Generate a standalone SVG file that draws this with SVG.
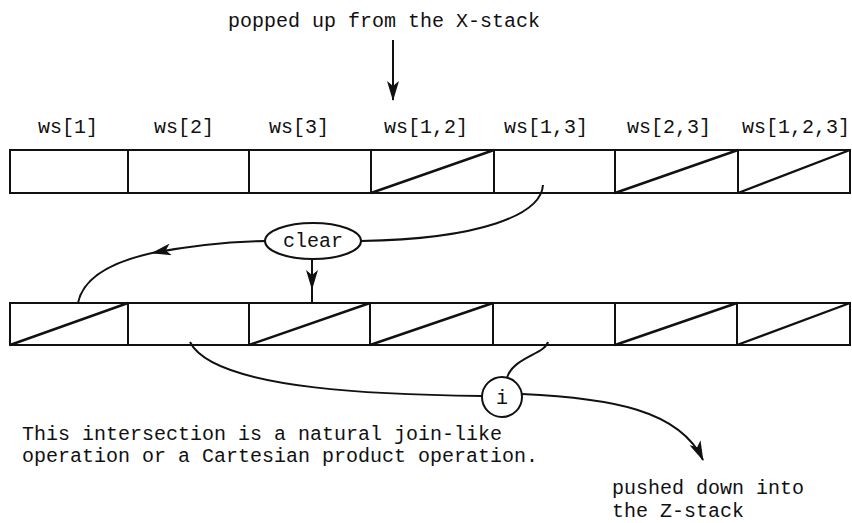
<svg xmlns="http://www.w3.org/2000/svg" width="852" height="523" viewBox="0 0 852 523">
<style>
text{font-family:"Liberation Mono","Courier New",monospace;font-size:20px;fill:#111}
.c{text-anchor:middle}
.box{fill:none;stroke:#111;stroke-width:2}
.dg{stroke:#111;stroke-width:2.4;fill:none}
.ln{fill:none;stroke:#111;stroke-width:2}
</style>
<defs>
<marker id="ah" viewBox="0 0 20 12" refX="19" refY="6" markerWidth="20" markerHeight="12" markerUnits="userSpaceOnUse" orient="auto">
<path d="M0,0 L20,6 L0,12 L5,6 Z" fill="#111"/>
</marker>
</defs>
<rect width="852" height="523" fill="#fff"/>
<g id="title"><text x="228" y="27">popped up from the X-stack</text></g>
<g id="labels">
<text x="38" y="133">ws[1]</text>
<text x="154" y="133">ws[2]</text>
<text x="269" y="133">ws[3]</text>
<text x="384" y="133">ws[1,2]</text>
<text x="504" y="133">ws[1,3]</text>
<text x="627" y="133">ws[2,3]</text>
<text x="742" y="133">ws[1,2,3]</text>
</g>
<g id="top-row">
<rect class="box" x="10" y="150" width="840" height="43"/>
<path class="box" d="M128,150V193M249,150V193M371,150V193M494,150V193M615,150V193M738,150V193"/>
<path class="dg" d="M371,193L494,150M615,193L738,150M738,193L850,150"/>
</g>
<g id="bottom-row">
<rect class="box" x="10" y="303" width="840" height="42"/>
<path class="box" d="M128,303V345M249,303V345M370,303V345M493,303V345M615,303V345M737,303V345"/>
<path class="dg" d="M10,345L128,303M249,345L370,303M370,345L493,303M615,345L737,303M737,345L850,303"/>
</g>
<g id="clear">
<ellipse class="ln" cx="313" cy="241" rx="48" ry="18"/>
<text class="c" x="313" y="247">clear</text>
</g>
<g id="i">
<circle class="ln" cx="502" cy="397" r="20"/>
<text class="c" x="502" y="404">i</text>
</g>
<g id="connectors">
<path class="ln" d="M393,40V100" stroke-width="3" marker-end="url(#ah)"/>
<path class="ln" d="M543,185C541,215 480,239 361,241"/>
<path class="ln" d="M265,241Q210,242 152,253" marker-end="url(#ah)"/>
<path class="ln" d="M152,253Q85,268 78,303"/>
<path class="ln" d="M312,259V289" marker-end="url(#ah)"/>
<path class="ln" d="M312,285V303"/>
<path class="ln" d="M482,396C400,395 215,392 190,342"/>
<path class="ln" d="M548,342C545,354 512,358 507,378"/>
<path class="ln" d="M522,394C610,398 680,410 703,460" marker-end="url(#ah)"/>
</g>
<g id="notes">
<text x="22" y="440">This intersection is a natural join-like</text>
<text x="22" y="462">operation or a Cartesian product operation.</text>
<text x="612" y="494">pushed down into</text>
<text x="612" y="517">the Z-stack</text>
</g>
</svg>
